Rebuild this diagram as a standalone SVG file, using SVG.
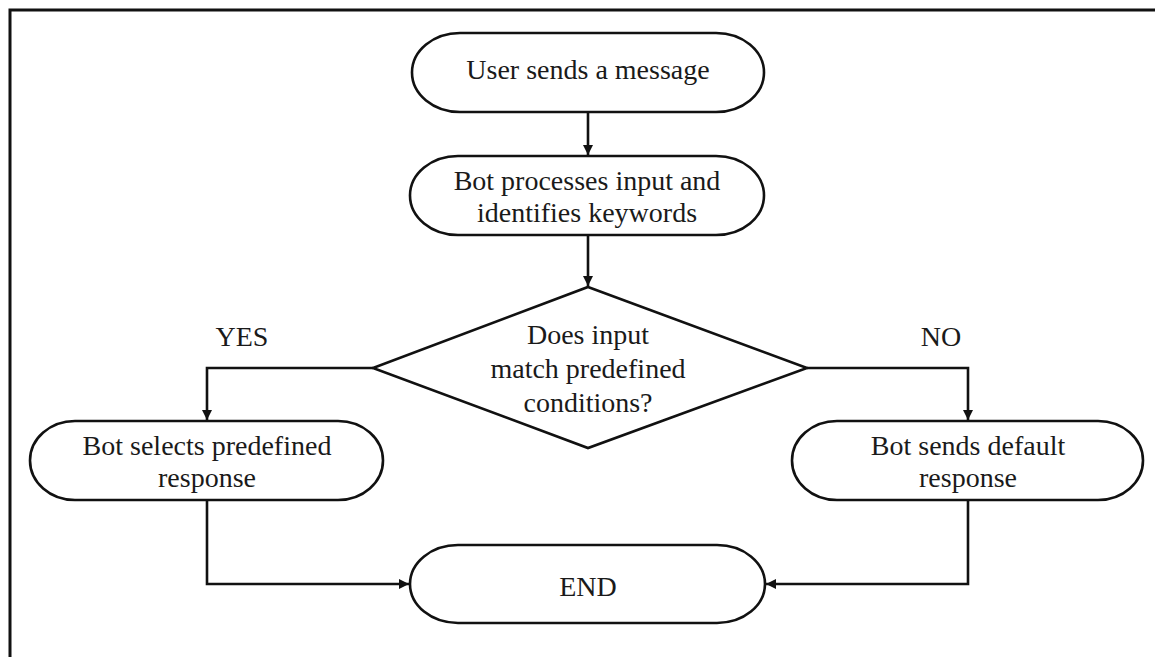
<svg xmlns="http://www.w3.org/2000/svg" width="1155" height="657" viewBox="0 0 1155 657">
  <style>
    .shape { fill: #ffffff; stroke: #111111; stroke-width: 2.6; }
    .wire { fill: none; stroke: #111111; stroke-width: 2.6; }
    .label { font-family: "Liberation Serif", "Times New Roman", serif; font-size: 28px; fill: #1a1a1a; text-anchor: middle; }
  </style>
  <defs>
    <marker id="arrow" viewBox="0 0 10 10" refX="10" refY="5" markerWidth="4" markerHeight="4" markerUnits="strokeWidth" orient="auto">
      <path d="M0,0 L10,5 L0,10 z" fill="#111111"/>
    </marker>
  </defs>

  <rect width="1155" height="657" fill="#ffffff"/>
  <!-- frame: top and left edges -->
  <path d="M10,657 L10,10 L1155,10" fill="none" stroke="#111111" stroke-width="3"/>

  <g id="connectors">
    <path class="wire" d="M588,112 L588,155" marker-end="url(#arrow)"/>
    <path class="wire" d="M588,235 L588,286" marker-end="url(#arrow)"/>
    <path class="wire" d="M373,368 L207,368 L207,420" marker-end="url(#arrow)"/>
    <path class="wire" d="M807,368 L968,368 L968,420" marker-end="url(#arrow)"/>
    <path class="wire" d="M207,500 L207,584 L409,584" marker-end="url(#arrow)"/>
    <path class="wire" d="M968,500 L968,584 L766,584" marker-end="url(#arrow)"/>
    <text class="label" x="242" y="346">YES</text>
    <text class="label" x="941" y="346">NO</text>
  </g>

  <g id="start">
    <rect class="shape" x="412" y="33" width="352" height="79" rx="48" ry="39.5"/>
    <text class="label" x="588" y="79">User sends a message</text>
  </g>

  <g id="process">
    <rect class="shape" x="410" y="156" width="354" height="79" rx="48" ry="39.5"/>
    <text class="label" x="587" y="190">Bot processes input and</text>
    <text class="label" x="587" y="222">identifies keywords</text>
  </g>

  <g id="decision">
    <polygon class="shape" points="588,287 807,368 588,448 373,368"/>
    <text class="label" x="588" y="344">Does input</text>
    <text class="label" x="588" y="378">match predefined</text>
    <text class="label" x="588" y="412">conditions?</text>
  </g>

  <g id="predefined">
    <rect class="shape" x="30" y="421" width="353" height="79" rx="45" ry="39.5"/>
    <text class="label" x="207" y="455">Bot selects predefined</text>
    <text class="label" x="207" y="487">response</text>
  </g>

  <g id="default">
    <rect class="shape" x="792" y="421" width="351" height="79" rx="45" ry="39.5"/>
    <text class="label" x="968" y="455">Bot sends default</text>
    <text class="label" x="968" y="487">response</text>
  </g>

  <g id="end">
    <rect class="shape" x="410" y="545" width="355" height="78" rx="48" ry="39"/>
    <text class="label" x="588" y="596">END</text>
  </g>
</svg>
